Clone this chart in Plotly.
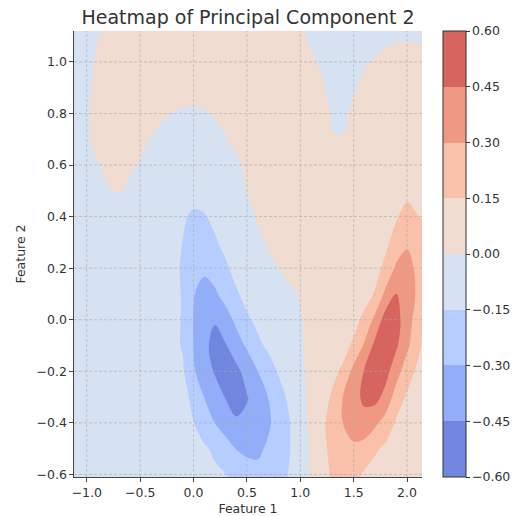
import plotly.graph_objects as go

# Sample grid of the second principal component over the feature plane
feature1 = [-1.12, -1.0, -0.9, -0.8, -0.7, -0.6, -0.5, -0.4, -0.3, -0.2, -0.1,
            0.0, 0.1, 0.2, 0.3, 0.4, 0.5, 0.6, 0.7, 0.8, 0.9, 1.0,
            1.1, 1.2, 1.3, 1.4, 1.5, 1.6, 1.7, 1.8, 1.9, 2.0, 2.14]
feature2 = [-0.61, -0.5, -0.4, -0.3, -0.2, -0.1, 0.0, 0.1, 0.2,
            0.3, 0.4, 0.5, 0.6, 0.7, 0.8, 0.9, 1.0, 1.12]

# one row per feature2 value, one column per feature1 value
pc2 = [
    [-0.06, -0.06, -0.06, -0.065, -0.07, -0.07, -0.075, -0.08, -0.08, -0.085, -0.09,
     -0.10, -0.11, -0.125, -0.14, -0.18, -0.23, -0.26, -0.24, -0.19, -0.14, -0.06,
     0.015, 0.09, 0.165, 0.22, 0.18, 0.12, 0.09, 0.075, 0.07, 0.065, 0.06],
    [-0.06, -0.06, -0.06, -0.065, -0.07, -0.07, -0.075, -0.08, -0.085, -0.09, -0.10,
     -0.115, -0.135, -0.17, -0.23, -0.305, -0.33, -0.325, -0.28, -0.22, -0.155, -0.06,
     0.02, 0.11, 0.19, 0.245, 0.27, 0.24, 0.17, 0.12, 0.09, 0.075, 0.065],
    [-0.06, -0.06, -0.06, -0.065, -0.07, -0.07, -0.075, -0.08, -0.09, -0.10, -0.12,
     -0.148, -0.21, -0.302, -0.38, -0.43, -0.42, -0.38, -0.32, -0.24, -0.155, -0.055,
     0.03, 0.12, 0.20, 0.302, 0.38, 0.40, 0.33, 0.24, 0.13, 0.09, 0.07],
    [-0.06, -0.06, -0.06, -0.065, -0.07, -0.075, -0.08, -0.085, -0.095, -0.105, -0.125,
     -0.17, -0.302, -0.40, -0.455, -0.51, -0.46, -0.38, -0.298, -0.20, -0.12, -0.045,
     0.04, 0.10, 0.165, 0.302, 0.40, 0.48, 0.50, 0.40, 0.23, 0.13, 0.08],
    [-0.06, -0.06, -0.06, -0.065, -0.07, -0.075, -0.08, -0.09, -0.10, -0.115, -0.135,
     -0.28, -0.40, -0.46, -0.53, -0.49, -0.39, -0.302, -0.21, -0.135, -0.08, -0.03,
     0.035, 0.07, 0.12, 0.17, 0.35, 0.46, 0.54, 0.50, 0.36, 0.22, 0.08],
    [-0.06, -0.06, -0.06, -0.065, -0.07, -0.075, -0.08, -0.09, -0.10, -0.12, -0.16,
     -0.302, -0.42, -0.49, -0.46, -0.36, -0.28, -0.18, -0.125, -0.08, -0.05, -0.01,
     0.025, 0.05, 0.075, 0.11, 0.17, 0.32, 0.49, 0.56, 0.47, 0.33, 0.14],
    [-0.06, -0.06, -0.06, -0.065, -0.07, -0.075, -0.08, -0.09, -0.10, -0.11, -0.16,
     -0.305, -0.42, -0.44, -0.36, -0.27, -0.17, -0.12, -0.08, -0.05, -0.03, -0.005,
     0.02, 0.04, 0.055, 0.075, 0.11, 0.18, 0.34, 0.52, 0.50, 0.37, 0.17],
    [-0.06, -0.06, -0.06, -0.065, -0.07, -0.075, -0.08, -0.09, -0.10, -0.11, -0.16,
     -0.295, -0.34, -0.32, -0.245, -0.165, -0.11, -0.08, -0.06, -0.04, -0.02, 0.005,
     0.025, 0.04, 0.05, 0.06, 0.075, 0.10, 0.16, 0.34, 0.455, 0.40, 0.22],
    [-0.06, -0.06, -0.06, -0.065, -0.07, -0.075, -0.08, -0.09, -0.10, -0.115, -0.165,
     -0.26, -0.28, -0.24, -0.17, -0.11, -0.08, -0.05, -0.025, 0.002, 0.025, 0.04,
     0.05, 0.055, 0.06, 0.065, 0.075, 0.09, 0.11, 0.18, 0.33, 0.34, 0.25],
    [-0.06, -0.06, -0.06, -0.065, -0.07, -0.075, -0.08, -0.09, -0.10, -0.115, -0.152,
     -0.20, -0.20, -0.165, -0.115, -0.08, -0.05, -0.025, 0.01, 0.035, 0.05, 0.06,
     0.065, 0.065, 0.065, 0.065, 0.07, 0.08, 0.095, 0.125, 0.20, 0.285, 0.23],
    [-0.06, -0.06, -0.06, -0.065, -0.07, -0.075, -0.08, -0.09, -0.10, -0.11, -0.135,
     -0.17, -0.16, -0.12, -0.085, -0.06, -0.035, 0.008, 0.035, 0.05, 0.06, 0.065,
     0.07, 0.07, 0.07, 0.07, 0.07, 0.075, 0.085, 0.10, 0.14, 0.19, 0.14],
    [-0.04, -0.025, -0.012, -0.003, 0.004, -0.008, -0.02, -0.035, -0.05, -0.065, -0.085,
     -0.10, -0.09, -0.07, -0.05, -0.025, 0.001, 0.025, 0.04, 0.05, 0.06, 0.065,
     0.07, 0.07, 0.07, 0.07, 0.07, 0.07, 0.075, 0.08, 0.10, 0.12, 0.10],
    [-0.03, -0.015, -0.003, 0.01, 0.02, 0.008, -0.004, -0.02, -0.035, -0.045, -0.055,
     -0.06, -0.055, -0.045, -0.03, -0.012, 0.015, 0.035, 0.045, 0.055, 0.06, 0.065,
     0.065, 0.065, 0.065, 0.065, 0.065, 0.065, 0.065, 0.07, 0.075, 0.08, 0.07],
    [-0.025, -0.004, 0.01, 0.02, 0.025, 0.02, 0.01, -0.001, -0.012, -0.02, -0.025,
     -0.027, -0.022, -0.013, -0.002, 0.012, 0.025, 0.035, 0.04, 0.045, 0.045, 0.04,
     0.03, 0.018, 0.001, 0.001, 0.015, 0.03, 0.045, 0.055, 0.06, 0.06, 0.055],
    [-0.025, -0.004, 0.01, 0.02, 0.025, 0.025, 0.02, 0.014, 0.006, -0.001, -0.007,
     -0.009, -0.004, 0.004, 0.012, 0.02, 0.025, 0.03, 0.03, 0.028, 0.024, 0.018,
     0.013, 0.008, -0.002, -0.005, 0.006, 0.02, 0.03, 0.04, 0.045, 0.045, 0.04],
    [-0.025, -0.005, 0.008, 0.018, 0.025, 0.03, 0.032, 0.032, 0.03, 0.026, 0.022,
     0.02, 0.022, 0.026, 0.03, 0.032, 0.032, 0.03, 0.027, 0.022, 0.017, 0.012,
     0.007, 0.002, -0.004, -0.007, -0.003, 0.006, 0.015, 0.022, 0.026, 0.028, 0.025],
    [-0.02, -0.006, 0.003, 0.012, 0.02, 0.025, 0.028, 0.03, 0.03, 0.03, 0.03,
     0.03, 0.03, 0.03, 0.03, 0.028, 0.025, 0.022, 0.018, 0.014, 0.01, 0.006,
     0.002, -0.002, -0.006, -0.008, -0.006, -0.002, 0.002, 0.006, 0.009, 0.01, 0.008],
    [-0.02, -0.01, -0.002, 0.005, 0.012, 0.018, 0.022, 0.025, 0.027, 0.028, 0.028,
     0.028, 0.028, 0.027, 0.025, 0.023, 0.02, 0.017, 0.013, 0.009, 0.005, 0.002,
     -0.003, -0.007, -0.01, -0.012, -0.012, -0.011, -0.009, -0.007, -0.005, -0.005, -0.006],
]

levels = [-0.6, -0.45, -0.3, -0.15, 0.0, 0.15, 0.3, 0.45, 0.6]
x_ticks = [-1.0, -0.5, 0.0, 0.5, 1.0, 1.5, 2.0]
y_ticks = [-0.6, -0.4, -0.2, 0.0, 0.2, 0.4, 0.6, 0.8, 1.0]

# coolwarm band colours, softened to 80 % opacity over white
band_colors = [
    "rgb(113,134,223)", "rgb(146,174,249)", "rgb(181,206,255)", "rgb(214,225,241)",
    "rgb(240,220,209)", "rgb(249,193,169)", "rgb(240,153,130)", "rgb(214,101,96)",
]
n = len(band_colors)

# filled contours: Plotly spreads the scale over the band midpoints plus one extra band each side
stops = [band_colors[0]] + band_colors + [band_colors[-1]]
fill_scale = [[i / (n + 1), c] for i, c in enumerate(stops)]

# stepped scale for the colour bar, one flat block per band between -0.6 and 0.6
bar_scale = []
for k, c in enumerate(band_colors):
    bar_scale.append([k / n, c])
    bar_scale.append([(k + 1) / n, c])

TEXT = "#333333"
FONT = "DejaVu Sans, Verdana, sans-serif"

fig = go.Figure()
fig.add_trace(
    go.Contour(
        x=feature1,
        y=feature2,
        z=pc2,
        autocontour=False,
        contours=dict(start=levels[0], end=levels[-1], size=0.15, coloring="fill"),
        colorscale=fill_scale,
        line=dict(width=0, smoothing=1.0),
        showscale=False,
        hoverinfo="skip",
    )
)

# colour bar carrier
fig.add_trace(
    go.Scatter(
        x=[feature1[0]], y=[feature2[0]], mode="markers",
        marker=dict(
            size=1, opacity=0, color=[levels[0]],
            cmin=levels[0], cmax=levels[-1], colorscale=bar_scale, showscale=True,
            colorbar=dict(
                x=1.0603, xanchor="left", xpad=0,
                y=0.5, yanchor="middle", ypad=0,
                len=1.0, lenmode="fraction", thickness=23,
                outlinewidth=1, outlinecolor=TEXT,
                tickvals=levels, tickformat=".2f",
                ticks="outside", ticklen=3.5, tickwidth=1, tickcolor=TEXT,
                tickfont=dict(family=FONT, size=12.5, color=TEXT),
            ),
        ),
        hoverinfo="skip", showlegend=False,
    )
)

grid_line = dict(color="rgba(170,170,170,0.75)", width=0.8, dash="3px,2px")
shapes = []
for t in x_ticks:
    shapes.append(dict(type="line", xref="x", yref="paper", x0=t, x1=t, y0=0, y1=1,
                       line=grid_line, layer="above"))
for t in y_ticks:
    shapes.append(dict(type="line", xref="paper", yref="y", x0=0, x1=1, y0=t, y1=t,
                       line=grid_line, layer="above"))

axis_common = dict(
    showgrid=False, zeroline=False, showline=True, linecolor="#444444", linewidth=1.3,
    ticks="outside", ticklen=3.5, tickwidth=1, tickcolor="#444444",
    tickfont=dict(family=FONT, size=12.5, color=TEXT), tickformat=".1f",
    layer="above traces",
)

fig.update_layout(
    width=519, height=516,
    margin=dict(l=74, r=97, t=31, b=39, autoexpand=False),
    paper_bgcolor="white", plot_bgcolor="white",
    showlegend=False,
    title=dict(text="Heatmap of Principal Component 2", x=0.5, xref="paper",
               y=1 - 17 / 516, yref="container", yanchor="middle",
               font=dict(family=FONT, size=19, color=TEXT)),
    xaxis=dict(axis_common, range=[feature1[0], feature1[-1]], tickvals=x_ticks,
               title=dict(text="Feature 1", standoff=6,
                          font=dict(family=FONT, size=12.5, color=TEXT))),
    yaxis=dict(axis_common, range=[feature2[0], feature2[-1]], tickvals=y_ticks,
               title=dict(text="Feature 2", standoff=8,
                          font=dict(family=FONT, size=12.5, color=TEXT))),
    shapes=shapes,
    font=dict(family=FONT, color=TEXT),
)

fig.write_html("out.html")
